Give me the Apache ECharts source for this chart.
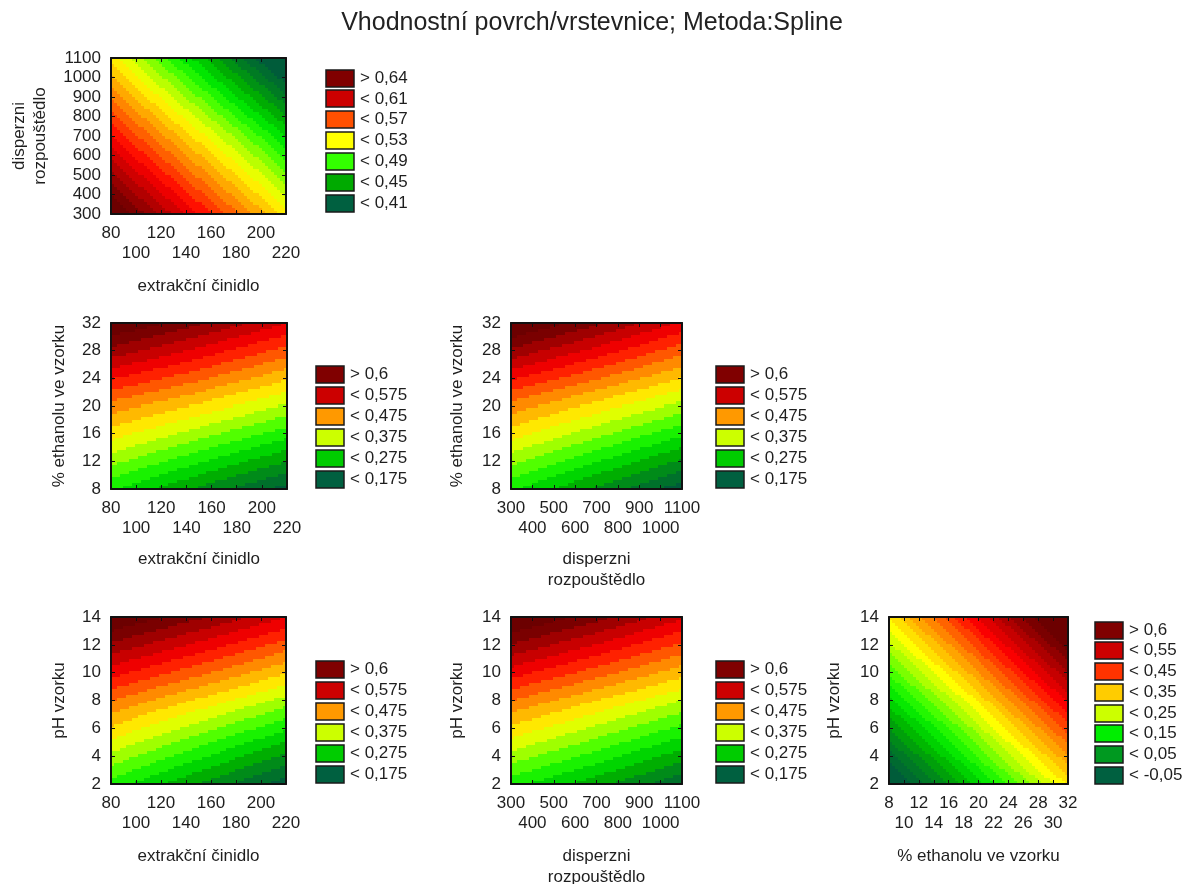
<!DOCTYPE html>
<html>
<head>
<meta charset="utf-8">
<script src="https://cdn.jsdelivr.net/npm/echarts@6/dist/echarts.min.js"></script>
<style>
  html, body { margin: 0; padding: 0; background: #ffffff; }
  #chart { width: 1184px; height: 884px; }
</style>
</head>
<body>
<div id="chart"></div>
<script>
// ---- axis titles ----
const nameExtr = 'extrakční činidlo';
const nameDisp = 'disperzni\nrozpouštědlo';
const nameEth = '% ethanolu ve vzorku';
const namePH = 'pH vzorku';

// ---- tick labels ----
const ticksExtr = [80, 100, 120, 140, 160, 180, 200, 220];
const ticksDisp = [300, 400, 500, 600, 700, 800, 900, 1000, 1100];
const ticksEthY = [8, 12, 16, 20, 24, 28, 32];
const ticksEthX = [8, 10, 12, 14, 16, 18, 20, 22, 24, 26, 28, 30, 32];
const ticksPH = [2, 4, 6, 8, 10, 12, 14];

// ---- fitted surface nodes (min / middle / max of each factor) ----
const nodesExtr = [80, 150, 220];
const nodesDisp = [300, 700, 1100];
const nodesEth = [8, 20, 32];
const nodesPH = [2, 8, 14];

// response values, one row per y node (bottom to top), one column per x node
const zExtrDisp = [[0.655, 0.59, 0.525], [0.59, 0.525, 0.46], [0.525, 0.455, 0.385]];
const zExtrEth = [[0.28, 0.22, 0.165], [0.44, 0.395, 0.345], [0.63, 0.58, 0.525]];
const zDispEth = [[0.28, 0.22, 0.16], [0.44, 0.39, 0.34], [0.635, 0.58, 0.52]];
const zExtrPH = [[0.29, 0.225, 0.16], [0.45, 0.395, 0.34], [0.63, 0.58, 0.525]];
const zDispPH = [[0.285, 0.235, 0.18], [0.45, 0.40, 0.35], [0.635, 0.585, 0.53]];
const zEthPH = [[-0.10, 0.09, 0.28], [0.09, 0.28, 0.48], [0.28, 0.48, 0.68]];

// ---- contour levels: lowest, highest, spacing ----
const levelsA = [0.41, 0.64, 0.01];
const levelsB = [0.175, 0.6, 0.025];
const levelsC = [-0.05, 0.6, 0.025];

// ---- legend entries (first is "above", the rest "below") ----
const legendA = [0.64, 0.61, 0.57, 0.53, 0.49, 0.45, 0.41];
const legendB = [0.6, 0.575, 0.475, 0.375, 0.275, 0.175];
const legendC = [0.6, 0.55, 0.45, 0.35, 0.25, 0.15, 0.05, -0.05];

// ---- styling ----
const FONT = "'Liberation Sans', Arial, sans-serif";
const TEXT = '#1e1e1e';
const swatchA = ['#800000', '#cc0000', '#ff5000', '#ffff00', '#33ff00', '#00aa00', '#006040'];
const swatchB = ['#800000', '#cc0000', '#ff9900', '#ccff00', '#00cc00', '#006040'];
const swatchC = ['#800000', '#cc0000', '#ff3300', '#ffcc00', '#ccff00', '#00ee00', '#009920', '#006040'];

// green -> yellow -> red colour ramp
const ramp = [
  [0.00, [0, 92, 58]],
  [0.10, [0, 128, 32]],
  [0.18, [0, 176, 0]],
  [0.26, [0, 230, 0]],
  [0.33, [51, 255, 0]],
  [0.42, [170, 255, 0]],
  [0.50, [255, 255, 0]],
  [0.58, [255, 192, 0]],
  [0.66, [255, 128, 0]],
  [0.74, [255, 56, 0]],
  [0.80, [255, 0, 0]],
  [0.87, [208, 0, 0]],
  [0.94, [160, 0, 0]],
  [1.00, [122, 0, 0]]
];
function rampColor(t) {
  t = Math.max(0, Math.min(1, t));
  for (let i = 1; i < ramp.length; i++) {
    if (t <= ramp[i][0]) {
      const a = ramp[i - 1], b = ramp[i];
      const f = (t - a[0]) / (b[0] - a[0]);
      const c = a[1].map((v, k) => Math.round(v + (b[1][k] - v) * f));
      return 'rgb(' + c.join(',') + ')';
    }
  }
  return 'rgb(122,0,0)';
}
function bandColor(v, lv) {
  const lo = lv[0], hi = lv[1], step = lv[2];
  if (v >= hi) return 'rgb(108,0,0)';
  if (v < lo) return rampColor(0);
  const k = Math.ceil((v - lo) / step - 1e-9);
  return rampColor(k * step / (hi - lo));
}

// bilinear reading of the node grid
function locate(nodes, v) {
  let i = 0;
  while (i < nodes.length - 2 && v > nodes[i + 1]) i++;
  return [i, (v - nodes[i]) / (nodes[i + 1] - nodes[i])];
}
function surfaceAt(p, x, y) {
  const [i, fx] = locate(p.nx, x);
  const [j, fy] = locate(p.ny, y);
  const z = p.z;
  const a = z[j][i] + (z[j][i + 1] - z[j][i]) * fx;
  const b = z[j + 1][i] + (z[j + 1][i + 1] - z[j + 1][i]) * fx;
  return a + (b - a) * fy;
}

const panels = [
  { nx: nodesExtr, ny: nodesDisp, z: zExtrDisp, xt: ticksExtr, yt: ticksDisp, xName: nameExtr, yName: nameDisp,
    lv: levelsA, legend: legendA, sw: swatchA, box: [111, 58, 175, 156], yGap: 60, xGap: 62, lg: [326, 78, 20.9] },
  { nx: nodesExtr, ny: nodesEth, z: zExtrEth, xt: ticksExtr, yt: ticksEthY, xName: nameExtr, yName: nameEth,
    lv: levelsB, legend: legendB, sw: swatchB, box: [111, 323, 176, 166], yGap: 41, xGap: 60, lg: [316, 374, 21] },
  { nx: nodesDisp, ny: nodesEth, z: zDispEth, xt: ticksDisp, yt: ticksEthY, xName: nameDisp, yName: nameEth,
    lv: levelsB, legend: legendB, sw: swatchB, box: [511, 323, 171, 166], yGap: 43, xGap: 60, lg: [716, 374, 21] },
  { nx: nodesExtr, ny: nodesPH, z: zExtrPH, xt: ticksExtr, yt: ticksPH, xName: nameExtr, yName: namePH,
    lv: levelsB, legend: legendB, sw: swatchB, box: [111, 617, 175, 167], yGap: 41, xGap: 62, lg: [316, 669, 21] },
  { nx: nodesDisp, ny: nodesPH, z: zDispPH, xt: ticksDisp, yt: ticksPH, xName: nameDisp, yName: namePH,
    lv: levelsB, legend: legendB, sw: swatchB, box: [511, 617, 171, 167], yGap: 43, xGap: 62, lg: [716, 669, 21] },
  { nx: nodesEth, ny: nodesPH, z: zEthPH, xt: ticksEthX, yt: ticksPH, xName: nameEth, yName: namePH,
    lv: levelsC, legend: legendC, sw: swatchC, box: [889, 617, 179, 167], yGap: 44, xGap: 62, lg: [1095, 630, 20.75] }
];

const grids = [], xAxes = [], yAxes = [], series = [], graphics = [];
const labelStyle = { fontFamily: FONT, fontSize: 17, color: TEXT };
const frameLine = { show: true, onZero: false, lineStyle: { color: '#111', width: 2 } };
const innerTick = { show: true, inside: true, length: 4, lineStyle: { color: '#111', width: 1 } };
const plain = v => String(v);

panels.forEach((p, gi) => {
  const [left, top, width, height] = p.box;
  grids.push({ left, top, width, height, containLabel: false, outerBoundsMode: 'none', show: false });
  const xr = { min: p.xt[0], max: p.xt[p.xt.length - 1], interval: p.xt[1] - p.xt[0] };
  const yr = { min: p.yt[0], max: p.yt[p.yt.length - 1], interval: p.yt[1] - p.yt[0] };
  const evenX = p.xt.filter((_, i) => i % 2 === 0);
  const oddX = p.xt.filter((_, i) => i % 2 === 1);

  // bottom axis: frame, ticks, first row of labels, title
  xAxes.push(Object.assign({
    type: 'value', gridIndex: gi, position: 'bottom', z: 5,
    axisLine: frameLine, axisTick: innerTick, splitLine: { show: false },
    axisLabel: Object.assign({ margin: 11, customValues: evenX, formatter: plain, hideOverlap: false }, labelStyle),
    name: p.xName, nameLocation: 'middle', nameGap: p.xGap,
    nameTextStyle: Object.assign({ lineHeight: 21 }, labelStyle)
  }, xr));
  // second row of staggered labels
  xAxes.push(Object.assign({
    type: 'value', gridIndex: gi, position: 'bottom', z: 5,
    axisLine: { show: false }, axisTick: { show: false }, splitLine: { show: false },
    axisLabel: Object.assign({ margin: 31, customValues: oddX, formatter: plain, hideOverlap: false }, labelStyle)
  }, xr));
  // top edge of the frame
  xAxes.push(Object.assign({
    type: 'value', gridIndex: gi, position: 'top', z: 5,
    axisLine: frameLine, axisTick: innerTick, splitLine: { show: false }, axisLabel: { show: false }
  }, xr));
  yAxes.push(Object.assign({
    type: 'value', gridIndex: gi, position: 'left', z: 5,
    axisLine: frameLine, axisTick: innerTick, splitLine: { show: false },
    axisLabel: Object.assign({ margin: 10, showMinLabel: true, showMaxLabel: true, formatter: plain }, labelStyle),
    name: p.yName, nameLocation: 'middle', nameGap: p.yGap, nameRotate: 90,
    nameTextStyle: Object.assign({ lineHeight: 21 }, labelStyle)
  }, yr));
  yAxes.push(Object.assign({
    type: 'value', gridIndex: gi, position: 'right', z: 5,
    axisLine: frameLine, axisTick: innerTick, splitLine: { show: false }, axisLabel: { show: false }
  }, yr));

  // surface cells, about 3 px each
  const cols = Math.round(width / 3), rows = Math.round(height / 3);
  const data = [];
  for (let j = 0; j < rows; j++) {
    const ya = yr.min + (yr.max - yr.min) * j / rows;
    const yb = yr.min + (yr.max - yr.min) * (j + 1) / rows;
    for (let i = 0; i < cols; i++) {
      const xa = xr.min + (xr.max - xr.min) * i / cols;
      const xb = xr.min + (xr.max - xr.min) * (i + 1) / cols;
      data.push([xa, xb, ya, yb, surfaceAt(p, (xa + xb) / 2, (ya + yb) / 2)]);
    }
  }
  series.push({
    type: 'custom', xAxisIndex: gi * 3, yAxisIndex: gi * 2, silent: true, animation: false,
    progressive: 0, clip: true,
    encode: { x: [0, 1], y: [2, 3] },
    renderItem: (params, api) => {
      const a = api.coord([api.value(0), api.value(3)]);
      const b = api.coord([api.value(1), api.value(2)]);
      const x0 = Math.round(a[0]), y0 = Math.round(a[1]);
      const x1 = Math.round(b[0]), y1 = Math.round(b[1]);
      return {
        type: 'rect',
        shape: { x: x0, y: y0, width: x1 - x0, height: y1 - y0 },
        style: { fill: bandColor(api.value(4), p.lv) }
      };
    },
    data
  });

  // legend swatches and labels
  const [lx, ly, step] = p.lg;
  p.legend.forEach((lvl, k) => {
    const cy = ly + k * step;
    const txt = (k === 0 ? '> ' : '< ') + String(lvl).replace('.', ',');
    graphics.push({
      type: 'rect', z: 10,
      shape: { x: lx, y: Math.round(cy - 8.5), width: 28, height: 17 },
      style: { fill: p.sw[k], stroke: '#1a1a1a', lineWidth: 1.5 }
    });
    graphics.push({
      type: 'text', z: 10,
      style: { x: lx + 34, y: cy, text: txt, fill: TEXT, fontFamily: FONT, fontSize: 17,
               align: 'left', verticalAlign: 'middle' }
    });
  });
});

const chart = echarts.init(document.getElementById('chart'), null, { renderer: 'canvas' });
chart.setOption({
  backgroundColor: '#ffffff',
  animation: false,
  title: {
    text: 'Vhodnostní povrch/vrstevnice; Metoda:Spline',
    left: 'center', top: 11, padding: 0,
    textStyle: { fontFamily: FONT, fontSize: 25, fontWeight: 'normal', color: '#222' }
  },
  grid: grids,
  xAxis: xAxes,
  yAxis: yAxes,
  series,
  graphic: graphics
});
</script>
</body>
</html>
